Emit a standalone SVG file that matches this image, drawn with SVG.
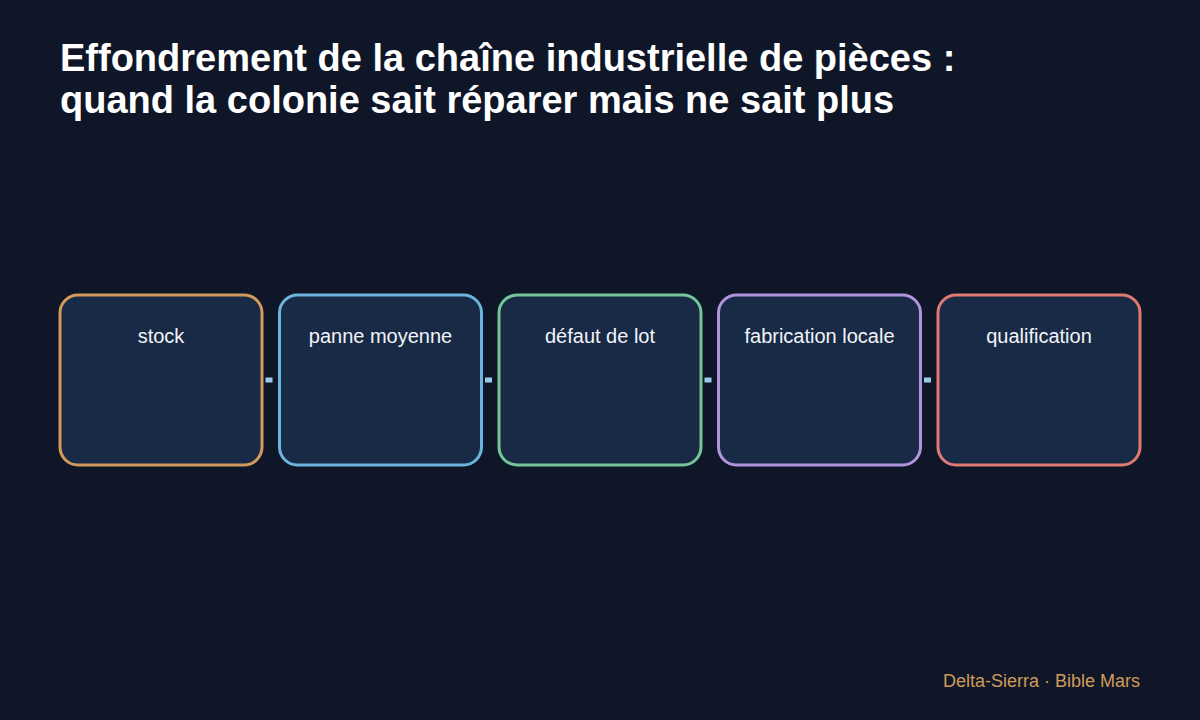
<svg xmlns="http://www.w3.org/2000/svg" width="1200" height="720" viewBox="0 0 1200 720">
<style>
.node rect{fill:#182a45;stroke-width:3}
.lbl{font-family:"Liberation Sans",Arial,sans-serif;font-size:20px;fill:#f2f4f8;text-anchor:middle}
.title{font-family:"Liberation Sans",Arial,sans-serif;font-size:38px;font-weight:bold;fill:#ffffff}
.conn line{stroke:#9ccbe8;stroke-width:5}
</style>
<rect width="1200" height="720" fill="#0e1627"/>
<text class="title" x="60" y="71">Effondrement de la chaîne industrielle de pièces :</text>
<text class="title" x="60" y="113">quand la colonie sait réparer mais ne sait plus</text>
<g id="n1" class="node"><rect x="60" y="295" width="202" height="170" rx="18" stroke="#d49a5c"/><text class="lbl" x="161" y="343">stock</text></g>
<g id="n2" class="node"><rect x="279.5" y="295" width="202" height="170" rx="18" stroke="#6cb4dd"/><text class="lbl" x="380.5" y="343">panne moyenne</text></g>
<g id="n3" class="node"><rect x="499" y="295" width="202" height="170" rx="18" stroke="#72c794"/><text class="lbl" x="600" y="343">défaut de lot</text></g>
<g id="n4" class="node"><rect x="718.5" y="295" width="202" height="170" rx="18" stroke="#b095de"/><text class="lbl" x="819.5" y="343">fabrication locale</text></g>
<g id="n5" class="node"><rect x="938" y="295" width="202" height="170" rx="18" stroke="#e07a72"/><text class="lbl" x="1039" y="343">qualification</text></g>
<g id="connectors" class="conn">
<line x1="265.5" y1="380" x2="272.5" y2="380"/>
<line x1="485" y1="380" x2="492" y2="380"/>
<line x1="704.5" y1="380" x2="711.5" y2="380"/>
<line x1="924" y1="380" x2="931" y2="380"/>
</g>
<text x="1140" y="687" text-anchor="end" font-family="Liberation Sans,Arial,sans-serif" font-size="18" fill="#d29a5a">Delta-Sierra · Bible Mars</text>
</svg>
